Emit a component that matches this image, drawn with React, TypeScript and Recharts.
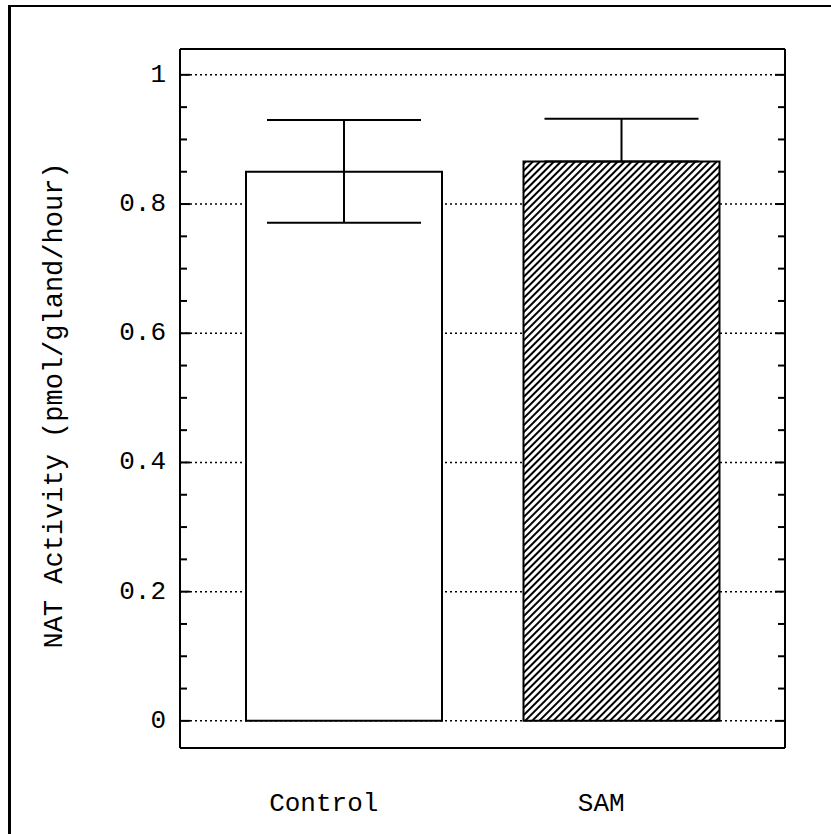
import React from 'react';
import { BarChart, Bar, XAxis, YAxis, CartesianGrid, ErrorBar, Cell } from 'recharts';

const categories = ['Control', 'SAM'];
const means = [0.85, 0.866];
const errLow = [0.079, 0];
const errHigh = [0.08, 0.066];
const majorTicks = [0, 0.2, 0.4, 0.6, 0.8, 1];
const majorLabels = ['0', '0.2', '0.4', '0.6', '0.8', '1'];
const allTicks = [0, 0.05, 0.1, 0.15, 0.2, 0.25, 0.3, 0.35, 0.4, 0.45, 0.5, 0.55, 0.6, 0.65, 0.7, 0.75, 0.8, 0.85, 0.9, 0.95, 1];
const yDomain = [-0.042, 1.04];
const yTitle = 'NAT Activity (pmol/gland/hour)';

const data = categories.map((name, i) => ({ name, value: means[i], err: [errLow[i], errHigh[i]] }));

const FONT = '"Liberation Mono", "DejaVu Sans Mono", monospace';

const majorIndex = (v: number) => majorTicks.findIndex((m) => Math.abs(m - v) < 1e-6);

const LeftTick = (props: any) => {
  const { x, y, payload } = props;
  const idx = majorIndex(payload.value);
  const major = idx >= 0;
  return (
    <g>
      <line x1={x} x2={x + (major ? 10 : 7)} y1={y} y2={y} stroke="#000" strokeWidth={2} />
      {major && (
        <text x={x - 14} y={y} textAnchor="end" dominantBaseline="central" fontFamily={FONT} fontSize={26} fill="#000">
          {majorLabels[idx]}
        </text>
      )}
    </g>
  );
};

const RightTick = (props: any) => {
  const { x, y, payload } = props;
  const major = majorIndex(payload.value) >= 0;
  return <line x1={x} x2={x - (major ? 10 : 7)} y1={y} y2={y} stroke="#000" strokeWidth={2} />;
};

const BottomTick = (props: any) => {
  const { x, y, payload } = props;
  return (
    <text x={x - 20} y={y} dy="0.71em" textAnchor="middle" fontFamily={FONT} fontSize={26} fill="#000">
      {payload.value}
    </text>
  );
};

const YTitle = (props: any) => {
  const vb = props.viewBox || { x: 0, y: 49, width: 180, height: 699 };
  const cx = vb.x + 55;
  const cy = vb.y + vb.height / 2 + 7;
  return (
    <text x={cx} y={cy} transform={`rotate(-90 ${cx} ${cy})`} textAnchor="middle" dominantBaseline="central" fontFamily={FONT} fontSize={27} fill="#000">
      {yTitle}
    </text>
  );
};

export default function App() {
  return (
    <div style={{ position: 'absolute', left: 0, top: 0, width: 831, height: 834, background: '#fff' }}>
      <svg width={0} height={0} style={{ position: 'absolute' }}>
        <defs>
          <pattern id="hatch" patternUnits="userSpaceOnUse" width={5} height={5} patternTransform="rotate(45)">
            <rect x={0} y={0} width={5} height={5} fill="#fff" />
            <line x1={1} y1={0} x2={1} y2={5} stroke="#000" strokeWidth={2} />
          </pattern>
        </defs>
      </svg>
      <div style={{ position: 'absolute', left: 8, top: 5, width: 823, height: 829, borderLeft: '3px solid #000', borderTop: '2px solid #000', boxSizing: 'border-box' }} />
      <div style={{ position: 'absolute', left: 0, top: 0 }}>
        <BarChart width={831} height={834} data={data} margin={{ top: 48, right: 45, bottom: 0, left: 0 }} barSize={196}>
          <CartesianGrid yAxisId="left" xAxisId="bottom" horizontalValues={majorTicks} vertical={false} stroke="#000" strokeDasharray="2 3" strokeWidth={1.5} />
          <XAxis
            dataKey="name"
            xAxisId="bottom"
            height={86}
            padding={{ left: 25, right: 25 }}
            axisLine={{ stroke: '#000', strokeWidth: 2 }}
            tickLine={false}
            tickSize={0}
            tickMargin={45}
            tick={<BottomTick />}
          />
          <XAxis dataKey="name" xAxisId="top" orientation="top" height={1} padding={{ left: 25, right: 25 }} axisLine={{ stroke: '#000', strokeWidth: 2 }} tickLine={false} tick={false} />
          <YAxis
            yAxisId="left"
            width={180}
            type="number"
            domain={yDomain}
            allowDataOverflow
            ticks={allTicks}
            interval={0}
            axisLine={{ stroke: '#000', strokeWidth: 2 }}
            tickLine={false}
            tickSize={0}
            tickMargin={0}
            tick={<LeftTick />}
            label={<YTitle />}
          />
          <YAxis
            yAxisId="right"
            orientation="right"
            width={1}
            type="number"
            domain={yDomain}
            allowDataOverflow
            ticks={allTicks}
            interval={0}
            axisLine={{ stroke: '#000', strokeWidth: 2 }}
            tickLine={false}
            tickSize={0}
            tickMargin={0}
            tick={<RightTick />}
          />
          <Bar dataKey="value" xAxisId="bottom" yAxisId="left" stroke="#000" strokeWidth={2} isAnimationActive={false}>
            {data.map((d, i) => (
              <Cell key={d.name} fill={i === 0 ? '#fff' : 'url(#hatch)'} />
            ))}
            <ErrorBar dataKey="err" width={77} stroke="#000" strokeWidth={2} isAnimationActive={false} />
          </Bar>
        </BarChart>
      </div>
    </div>
  );
}
